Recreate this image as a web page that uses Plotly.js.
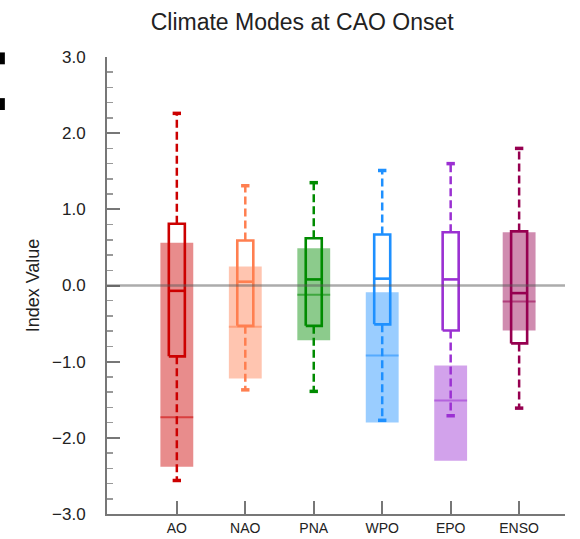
<!DOCTYPE html>
<html>
<head>
<meta charset="utf-8">
<script src="https://cdn.plot.ly/plotly-3.0.1.min.js"></script>
<style>html,body{margin:0;padding:0;background:#fff;}#chart{width:580px;height:539px;}</style>
</head>
<body>
<div id="chart"></div>
<script>
// ---- data ----
var categories   = ['AO', 'NAO', 'PNA', 'WPO', 'EPO', 'ENSO'];
var whiskerHigh  = [2.26, 1.31, 1.35, 1.51, 1.60, 1.80];
var boxQ3        = [0.81, 0.59, 0.62, 0.67, 0.70, 0.71];
var boxMedian    = [-0.07, 0.05, 0.08, 0.09, 0.08, -0.10];
var boxQ1        = [-0.93, -0.53, -0.53, -0.51, -0.59, -0.76];
var whiskerLow   = [-2.56, -1.37, -1.39, -1.77, -1.71, -1.61];
var shadeHigh    = [0.56, 0.25, 0.49, -0.09, -1.05, 0.70];
var shadeMedian  = [-1.73, -0.54, -0.12, -0.92, -1.51, -0.21];
var shadeLow     = [-2.38, -1.22, -0.72, -1.80, -2.30, -0.59];
var colorsRGB    = [[204,0,0],[255,127,80],[0,139,0],[30,144,255],[155,48,210],[150,0,80]];

// ---- styles ----
var FONT = 'Liberation Sans, Arial, Helvetica, sans-serif';
var boxHalf = 0.117, shadeHalf = 0.24;
function rgb(c){return 'rgb('+c.join(',')+')';}
function rgba(c,a){return 'rgba('+c.join(',')+','+a+')';}

var traces = [];
var idx = categories.map(function(_,i){return i;});

// shaded ranges as bars
traces.push({
  type:'bar', x: idx, base: shadeLow,
  y: shadeHigh.map(function(h,i){return h - shadeLow[i];}),
  width: shadeHalf*2,
  marker:{color: colorsRGB.map(function(c){return rgba(c,0.45);}), line:{width:0}},
  hoverinfo:'skip', showlegend:false
});

idx.forEach(function(i){
  var c = colorsRGB[i];
  // shaded median
  traces.push({type:'scatter', mode:'lines', x:[i-shadeHalf, i+shadeHalf], y:[shadeMedian[i], shadeMedian[i]],
    line:{color: rgba(c,0.55), width:2}, hoverinfo:'skip', showlegend:false});
  // whiskers
  traces.push({type:'scatter', mode:'lines', x:[i,i], y:[boxQ3[i], whiskerHigh[i]],
    line:{color: rgb(c), width:2.5, dash:'8px,4px'}, hoverinfo:'skip', showlegend:false});
  traces.push({type:'scatter', mode:'lines', x:[i,i], y:[boxQ1[i], whiskerLow[i]],
    line:{color: rgb(c), width:2.5, dash:'8px,4px'}, hoverinfo:'skip', showlegend:false});
  // caps
  traces.push({type:'scatter', mode:'markers', x:[i,i], y:[whiskerHigh[i], whiskerLow[i]],
    marker:{symbol:'line-ew', size:6, line:{color: rgb(c), width:3.5}}, hoverinfo:'skip', showlegend:false});
  // box outline
  traces.push({type:'scatter', mode:'lines',
    x:[i-boxHalf, i+boxHalf, i+boxHalf, i-boxHalf, i-boxHalf],
    y:[boxQ1[i], boxQ1[i], boxQ3[i], boxQ3[i], boxQ1[i]],
    line:{color: rgb(c), width:2.6}, hoverinfo:'skip', showlegend:false});
  // box median
  traces.push({type:'scatter', mode:'lines', x:[i-boxHalf, i+boxHalf], y:[boxMedian[i], boxMedian[i]],
    line:{color: rgb(c), width:2.6}, hoverinfo:'skip', showlegend:false});
});

var layout = {
  width:580, height:539,
  margin:{l:107, r:15, t:57, b:25, pad:0},
  paper_bgcolor:'#fff', plot_bgcolor:'#fff',
  barmode:'overlay',
  showlegend:false,
  font:{family: FONT, color:'#222'},
  title:{text:'Climate Modes at CAO Onset', font:{family:FONT, size:23, color:'#222'},
    xref:'container', x:0.521, xanchor:'center', yref:'container', y:0.959, yanchor:'middle'},
  xaxis:{
    range:[-1.02, 5.67], tickvals: idx, ticktext: categories,
    showgrid:false, zeroline:false, showline:true, linecolor:'#777', linewidth:2,
    ticks:'inside', ticklen:13, tickwidth:2, tickcolor:'#777',
    tickfont:{family:FONT, size:14, color:'#222'}, ticklabelstandoff:0, fixedrange:true
  },
  yaxis:{
    range:[-3, 3], dtick:1, tick0:0, tickformat:'.1f',
    showgrid:false, zeroline:false, showline:true, linecolor:'#777', linewidth:2,
    ticks:'inside', ticklen:13, tickwidth:2, tickcolor:'#777',
    minor:{dtick:0.2, ticks:'inside', ticklen:6, tickwidth:1.5, tickcolor:'#999'},
    tickfont:{family:FONT, size:17, color:'#222'}, ticklabelstandoff:16,
    title:{text:'Index Value', font:{family:FONT, size:18, color:'#222'}, standoff:8},
    fixedrange:true
  },
  shapes:[
    {type:'line', xref:'paper', x0:0, x1:1, yref:'y', y0:0, y1:0, layer:'above',
      line:{color:'rgba(90,90,90,0.5)', width:2.5}},
    {type:'rect', xref:'paper', yref:'paper', x0:-0.234, x1:-0.223, y0:1.01, y1:0.984, fillcolor:'#000', line:{width:0}},
    {type:'rect', xref:'paper', yref:'paper', x0:-0.234, x1:-0.223, y0:0.91, y1:0.884, fillcolor:'#000', line:{width:0}}
  ]
};

Plotly.newPlot('chart', traces, layout, {staticPlot:true, displayModeBar:false});
</script>
</body>
</html>
